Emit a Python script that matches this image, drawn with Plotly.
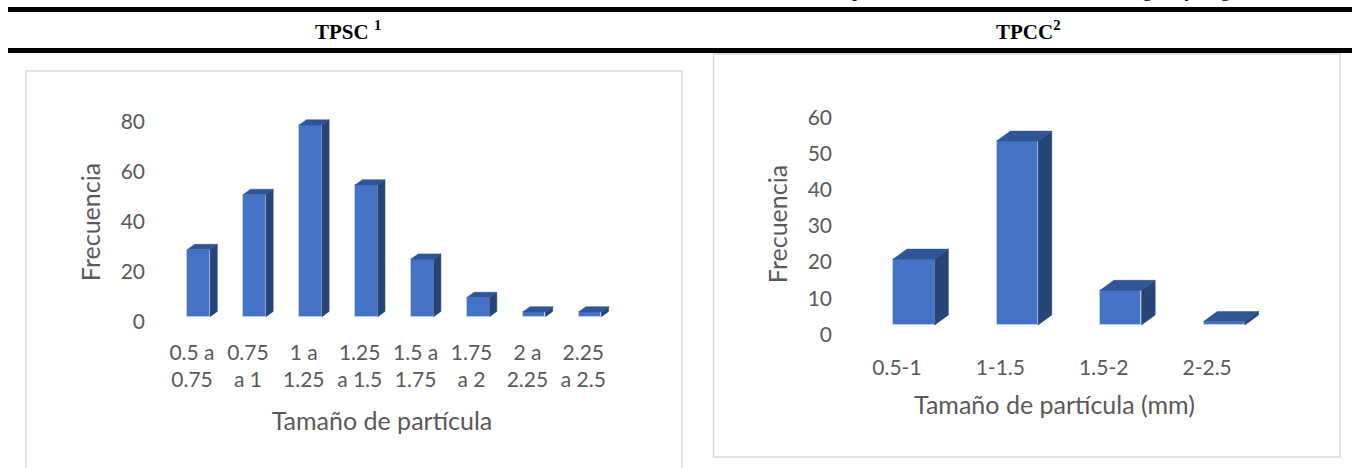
import plotly.graph_objects as go

W, H = 1352, 468

# ---------------- data ----------------
tpsc_categories = ["0.5 a 0.75", "0.75 a 1", "1 a 1.25", "1.25 a 1.5",
                   "1.5 a 1.75", "1.75 a 2", "2 a 2.25", "2.25 a 2.5"]
tpsc_ticktext = ["0.5 a<br>0.75", "0.75<br>a 1", "1 a<br>1.25", "1.25<br>a 1.5",
                 "1.5 a<br>1.75", "1.75<br>a 2", "2 a<br>2.25", "2.25<br>a 2.5"]
tpsc_freq = [28, 51, 80, 55, 24, 8, 2, 2]

tpcc_categories = ["0.5-1", "1-1.5", "1.5-2", "2-2.5"]
tpcc_freq = [19, 53, 10, 1]

caption = ("Tabla 5. Resultados de la distribución del tamaño de partículas "
           "obtenidas de corte en ángulo y ángulos con filo")

# ---------------- style ----------------
FRONT = "#4472C4"
SIDE = "#264478"
TOP = "#2F5597"
EDGE = "rgba(190,208,238,0.9)"
TXT = "#595959"
FONT = "Lato, Carlito, sans-serif"
TICK_SIZE = 21
TITLE_SIZE = 25


def px_x(p):
    return p / W


def px_y(p):
    return 1 - p / H


def faces(vals, w, dx, dy):
    sx, sy, tx, ty = [], [], [], []
    for i, v in enumerate(vals):
        xl, xr = i - w / 2, i + w / 2
        sx += [xr, xr + dx, xr + dx, xr, xr, None]
        sy += [0, dy, v + dy, v, 0, None]
        tx += [xl, xl + dx, xr + dx, xr, xl, None]
        ty += [v, v + dy, v + dy, v, v, None]
    return sx, sy, tx, ty


fig = go.Figure()


def add_chart(cats, vals, w, dx, dy, xa, ya, ya_labels):
    idx = list(range(len(vals)))
    fig.add_trace(go.Bar(x=idx, y=vals, width=w, name="Frecuencia",
                         customdata=cats, hovertemplate="%{customdata}: %{y}<extra></extra>",
                         marker=dict(color=FRONT, line=dict(color=EDGE, width=1)),
                         xaxis=xa, yaxis=ya, showlegend=False))
    sx, sy, tx, ty = faces(vals, w, dx, dy)
    fig.add_trace(go.Scatter(x=sx, y=sy, fill="toself", mode="lines",
                             fillcolor=SIDE, line=dict(color=SIDE, width=0.5),
                             hoverinfo="skip", xaxis=xa, yaxis=ya, showlegend=False))
    fig.add_trace(go.Scatter(x=tx, y=ty, fill="toself", mode="lines",
                             fillcolor=TOP, line=dict(color=TOP, width=0.5),
                             hoverinfo="skip", xaxis=xa, yaxis=ya, showlegend=False))
    # empty trace so that the value-label axis (back wall scale) is drawn
    fig.add_trace(go.Scatter(x=[None], y=[None], mode="markers", hoverinfo="skip",
                             xaxis=xa, yaxis=ya_labels, showlegend=False))


add_chart(tpsc_categories, tpsc_freq, 0.406, 0.13, 2.2, "x", "y", "y2")
add_chart(tpcc_categories, tpcc_freq, 0.40, 0.1325, 2.88, "x3", "y3", "y4")

tickfont = dict(family=FONT, size=TICK_SIZE, color=TXT)
titlefont = dict(family=FONT, size=TITLE_SIZE, color=TXT)

plain = dict(showgrid=False, zeroline=False, showline=False, ticks="")

# left chart: category pitch 55.9 px, first bar centre at 198.7 px, axis at 146 px
L_PITCH, L_C0, L_AX = 55.9, 198.7, 146.0
# right chart: pitch 103.4 px, first bar centre at 914 px, axis at 833 px
R_PITCH, R_C0, R_AX = 103.4, 914.0, 833.0

# vertical geometry (pixels): plot-area top/bottom, bar floor and px-per-unit
L_TOP, L_BOT, L_FLOOR, L_SCALE, L_ZERO, L_LSCALE = 106.0, 338.0, 316.7, 2.396, 322.0, 2.5
R_TOP, R_BOT, R_FLOOR, R_SCALE, R_ZERO, R_LSCALE = 95.0, 353.0, 325.0, 3.47, 334.5, 3.62

fig.update_layout(
    width=W, height=H,
    margin=dict(l=0, r=0, t=0, b=0),
    paper_bgcolor="white", plot_bgcolor="rgba(0,0,0,0)",
    bargap=0,
    xaxis=dict(domain=[px_x(L_AX), px_x(L_C0 + 7.5 * L_PITCH)],
               range=[-(L_C0 - L_AX) / L_PITCH, 7.5], anchor="y",
               tickmode="array", tickvals=[i - 0.12 for i in range(len(tpsc_freq))],
               ticktext=tpsc_ticktext, tickfont=tickfont,
               title=dict(text="Tamaño de partícula", font=titlefont, standoff=22),
               **plain),
    yaxis=dict(domain=[px_y(L_BOT), px_y(L_TOP)],
               range=[-(L_BOT - L_FLOOR) / L_SCALE, (L_FLOOR - L_TOP) / L_SCALE],
               anchor="x", visible=False, **plain),
    yaxis2=dict(overlaying="y",
                range=[(L_ZERO - L_BOT) / L_LSCALE, (L_ZERO - L_TOP) / L_LSCALE],
                anchor="x", side="left", tickmode="linear", tick0=0, dtick=20,
                tickfont=tickfont,
                title=dict(text="Frecuencia", font=titlefont, standoff=12), **plain),
    xaxis3=dict(domain=[px_x(R_AX), px_x(R_C0 + 3.5 * R_PITCH)],
                range=[-(R_C0 - R_AX) / R_PITCH, 3.5], anchor="y3",
                tickmode="array", tickvals=[i - 0.165 for i in range(len(tpcc_freq))],
                ticktext=tpcc_categories, tickfont=tickfont,
                title=dict(text="Tamaño de partícula (mm)", font=titlefont, standoff=18),
                **plain),
    yaxis3=dict(domain=[px_y(R_BOT), px_y(R_TOP)],
                range=[-(R_BOT - R_FLOOR) / R_SCALE, (R_FLOOR - R_TOP) / R_SCALE],
                anchor="x3", visible=False, **plain),
    yaxis4=dict(overlaying="y3",
                range=[(R_ZERO - R_BOT) / R_LSCALE, (R_ZERO - R_TOP) / R_LSCALE],
                anchor="x3", side="left", tickmode="linear", tick0=0, dtick=10,
                tickfont=tickfont,
                title=dict(text="Frecuencia", font=titlefont, standoff=12), **plain),
)

shapes = [
    dict(type="rect", xref="paper", yref="paper", x0=px_x(8), x1=1.0,
         y0=px_y(12), y1=px_y(7), fillcolor="black", line=dict(width=0), layer="above"),
    dict(type="rect", xref="paper", yref="paper", x0=px_x(8), x1=1.0,
         y0=px_y(53), y1=px_y(48), fillcolor="black", line=dict(width=0), layer="above"),
    dict(type="rect", xref="paper", yref="paper", x0=px_x(26), x1=px_x(682),
         y0=px_y(490), y1=px_y(71), line=dict(color="#D9D9D9", width=1.5), layer="below"),
    dict(type="rect", xref="paper", yref="paper", x0=px_x(713.5), x1=px_x(1340),
         y0=px_y(457), y1=px_y(54), line=dict(color="#D9D9D9", width=1.5), layer="below"),
]
fig.update_layout(shapes=shapes)

serif = "Liberation Serif, Times New Roman, serif"
fig.update_layout(annotations=[
    dict(text=caption, xref="paper", yref="paper", x=px_x(872), y=px_y(3),
         xanchor="center", yanchor="bottom", showarrow=False,
         font=dict(family=serif, size=21, color="black")),
    dict(text="<b>TPSC <sup>1</sup></b>", xref="paper", yref="paper", x=px_x(348), y=px_y(31),
         xanchor="center", yanchor="middle", showarrow=False,
         font=dict(family=serif, size=21, color="black")),
    dict(text="<b>TPCC<sup>2</sup></b>", xref="paper", yref="paper", x=px_x(1028), y=px_y(31),
         xanchor="center", yanchor="middle", showarrow=False,
         font=dict(family=serif, size=21, color="black")),
])

fig.write_html("out.html")
